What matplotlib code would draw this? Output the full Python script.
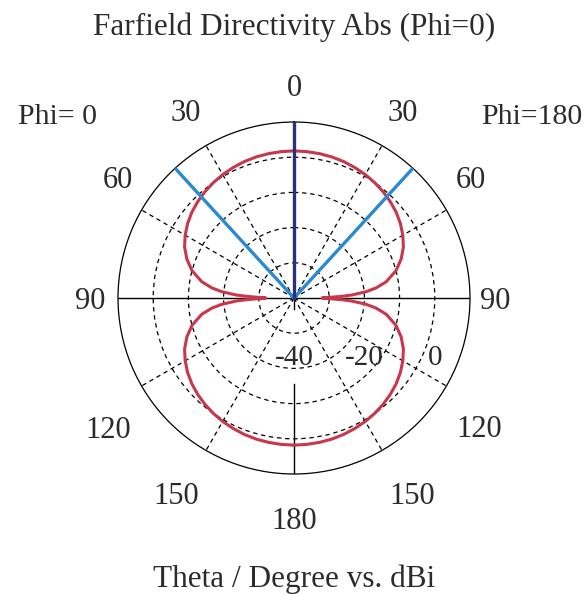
import numpy as np
import matplotlib
matplotlib.use("Agg")
import matplotlib.pyplot as plt

# farfield directivity (dBi) vs theta (same on both phi halves)
theta_deg = [0, 5, 10, 15, 20, 25, 30, 35, 40, 45, 50, 55, 60, 65, 70, 75, 80,
             83, 85, 87, 88, 89, 90, 91, 92, 93, 95, 97, 100, 105, 110, 115, 120,
             125, 130, 135, 140, 145, 150, 155, 160, 165, 170, 175, 180]
dbi = [1.8, 1.75, 1.65, 1.5, 1.25, 0.9, 0.5, 0.0, -0.6, -1.3, -2.1, -3.1, -4.3,
       -5.7, -7.6, -10.0, -13.4, -16.5, -19.4, -23.5, -26.5, -30.0, -32.0, -30.0,
       -26.5, -23.5, -19.4, -16.5, -13.4, -10.0, -7.6, -5.7, -4.3, -3.1, -2.1,
       -1.3, -0.6, 0.0, 0.5, 0.9, 1.25, 1.5, 1.65, 1.75, 1.8]

main_lobe = 0.0             # main lobe direction, deg
beam_edges = [-42.5, 42.5]  # 3 dB angular width edges, deg
r_min, r_max = -40, 10
ring_vals = [-30, -20, -10, 0]
ring_labels = ["-40", "-20", "0"]
ring_label_vals = [-40, -20, 0]

# theta labels: (angle on the chart, radius in dB units, text)
ang_labels = [(0, 20.5, "0"),
              (30, 21.7, "30"), (55.6, 20.8, "60"), (90, 17.2, "90"),
              (124.7, 24.0, "120"), (148.8, 24.8, "150"), (180, 22.5, "180"),
              (-30, 21.7, "30"), (-55.6, 20.8, "60"), (-90, 17.8, "90"),
              (-124.7, 24.3, "120"), (-148.8, 24.8, "150")]

txt = "#2b2b2b"
plt.rcParams["font.family"] = ["Liberation Serif", "DejaVu Serif"]

fig = plt.figure(figsize=(5.88, 5.94), dpi=100)
ax = fig.add_axes([0.2007, 0.2020, 0.5986, 0.5926], projection="polar")
ax.set_theta_zero_location("N")
ax.set_theta_direction(-1)
ax.set_ylim(r_min, r_max)

ax.set_xticks(np.radians([30, 60, 120, 150, 210, 240, 300, 330]))
ax.set_xticklabels([])
ax.set_yticks(ring_vals)
ax.set_yticklabels([])
ax.grid(True, color="black", linestyle=(0, (3.5, 3)), linewidth=0.9)
ax.spines["polar"].set_linewidth(0.9)

# solid axis lines
ax.plot(np.radians([90, 90]), [r_min, r_max], color="black", lw=1.0)
ax.plot(np.radians([270, 270]), [r_min, r_max], color="black", lw=1.0)
ax.plot(np.radians([180, 180]), [-15.5, r_max], color="black", lw=1.0)
ax.plot(np.radians([180, 180]), [r_min, -37], color="black", lw=1.0)

th = np.radians(theta_deg)
ax.plot(th, dbi, color="#c8374b", lw=2.2, zorder=4)
ax.plot(2 * np.pi - th, dbi, color="#c8374b", lw=2.2, zorder=4)

for a in beam_edges:
    ax.plot(np.radians([a, a]), [r_min, r_max], color="#2a8ad0", lw=2.4, zorder=5)
ax.plot(np.radians([main_lobe, main_lobe]), [r_min, r_max], color="#2b2f7e", lw=2.4, zorder=6)

for a, r, lab in ang_labels:
    ax.annotate(lab, xy=(np.radians(a), r), xytext=(0, -2.5), textcoords="offset points",
                ha="center", va="center", fontsize=22, color=txt, annotation_clip=False)

# radial labels
for v, lab in zip(ring_label_vals, ring_labels):
    ax.annotate(lab, xy=(np.radians(90), v), xytext=(0, -43), textcoords="offset points",
                ha="center", va="center", fontsize=21, color=txt)

fig.text(0.5, 1 - 27 / 594, "Farfield Directivity Abs (Phi=0)", ha="center", va="center",
         fontsize=22.5, color=txt)
fig.text(58 / 588, 1 - 117 / 594, "Phi= 0", ha="center", va="center", fontsize=21.5, color=txt)
fig.text(532 / 588, 1 - 117 / 594, "Phi=180", ha="center", va="center", fontsize=21.5, color=txt)
fig.text(294 / 588, 1 - 579 / 594, "Theta / Degree vs. dBi", ha="center", va="center",
         fontsize=22.5, color=txt)

fig.savefig("out.png", dpi=100)
